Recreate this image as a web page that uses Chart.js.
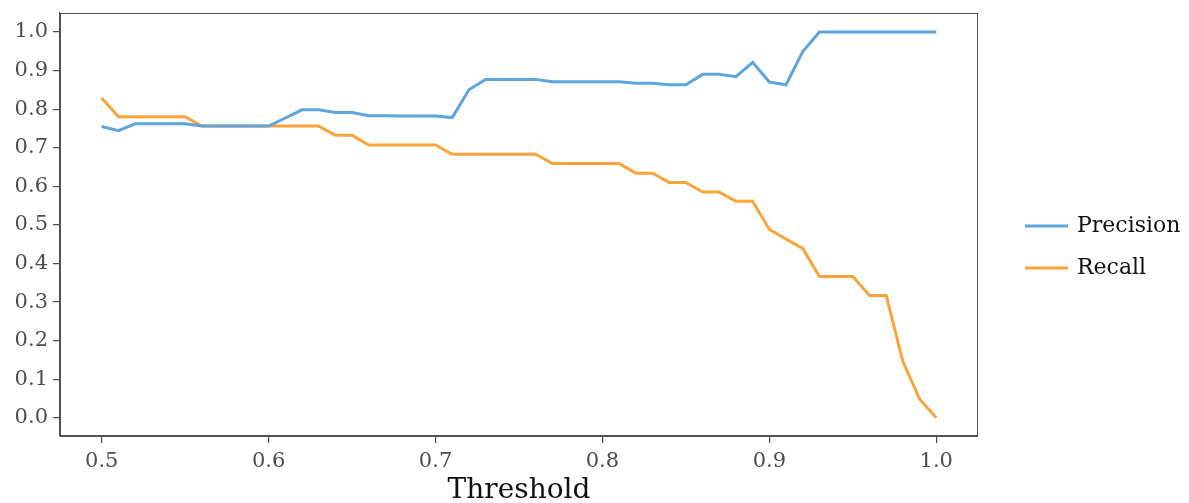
<!DOCTYPE html>
<html>
<head>
<meta charset="utf-8">
<script src="https://cdn.jsdelivr.net/npm/chart.js@4.4.1/dist/chart.umd.min.js"></script>
<style>
html,body{margin:0;padding:0;background:#fff;}
#wrap{width:1189px;height:503px;position:relative;}
</style>
</head>
<body>
<div id="wrap"><canvas id="c" width="1189" height="503"></canvas></div>
<script>
const thresholds = [0.50,0.51,0.52,0.53,0.54,0.55,0.56,0.57,0.58,0.59,0.60,0.61,0.62,0.63,0.64,0.65,0.66,0.67,0.68,0.69,0.70,0.71,0.72,0.73,0.74,0.75,0.76,0.77,0.78,0.79,0.80,0.81,0.82,0.83,0.84,0.85,0.86,0.87,0.88,0.89,0.90,0.91,0.92,0.93,0.94,0.95,0.96,0.97,0.98,0.99,1.00];
const precision = [0.755,0.744,0.762,0.762,0.762,0.762,0.756,0.756,0.756,0.756,0.756,0.777,0.798,0.798,0.791,0.791,0.783,0.783,0.782,0.782,0.782,0.778,0.850,0.877,0.877,0.877,0.877,0.871,0.871,0.871,0.871,0.871,0.867,0.867,0.863,0.863,0.890,0.890,0.884,0.921,0.870,0.863,0.949,1.0,1.0,1.0,1.0,1.0,1.0,1.0,1.0];
const recall = [0.829,0.780,0.780,0.780,0.780,0.780,0.756,0.756,0.756,0.756,0.756,0.756,0.756,0.756,0.732,0.732,0.707,0.707,0.707,0.707,0.707,0.683,0.683,0.683,0.683,0.683,0.683,0.659,0.659,0.659,0.659,0.659,0.634,0.634,0.610,0.610,0.585,0.585,0.561,0.561,0.488,0.463,0.439,0.366,0.366,0.366,0.317,0.317,0.146,0.049,0.0];
const xTicks = [0.5,0.6,0.7,0.8,0.9,1.0];
const yTicks = [0.0,0.1,0.2,0.3,0.4,0.5,0.6,0.7,0.8,0.9,1.0];
const seriesNames = ['Precision','Recall'];
const seriesColors = ['#5DA5DA','#FAA43A'];

const FONT = 'DejaVu Serif';
const AXIS = '#4d4d4d';

const pts = arr => thresholds.map((t,i)=>({x:t,y:arr[i]}));

const legendPlugin = {
  id:'customLegend',
  afterDraw(chart){
    const ctx = chart.ctx;
    const area = chart.chartArea;
    ctx.save();
    ctx.strokeStyle = '#555';
    ctx.lineWidth = 1;
    ctx.strokeRect(area.left+0.5, area.top+0.5, area.right-area.left-1, area.bottom-area.top);
    ctx.restore();
    const ys = [226,268];
    chart.data.datasets.forEach((ds,i)=>{
      ctx.save();
      ctx.strokeStyle = ds.borderColor;
      ctx.lineWidth = 3;
      ctx.beginPath();
      ctx.moveTo(1025, ys[i]);
      ctx.lineTo(1068, ys[i]);
      ctx.stroke();
      ctx.fillStyle = '#111';
      ctx.font = '22px "' + FONT + '"';
      ctx.textBaseline = 'middle';
      ctx.textAlign = 'left';
      ctx.fillText(ds.label, 1077, ys[i]);
      ctx.restore();
    });
  }
};

new Chart(document.getElementById('c'), {
  type:'line',
  data:{
    datasets:[
      {label:seriesNames[0], data:pts(precision), borderColor:seriesColors[0], backgroundColor:seriesColors[0], borderWidth:3, pointRadius:0, tension:0, fill:false},
      {label:seriesNames[1], data:pts(recall), borderColor:seriesColors[1], backgroundColor:seriesColors[1], borderWidth:3, pointRadius:0, tension:0, fill:false}
    ]
  },
  options:{
    responsive:false,
    animation:false,
    layout:{padding:{left:0,right:211,top:13,bottom:0}},
    plugins:{legend:{display:false}, tooltip:{enabled:false}},
    scales:{
      x:{
        type:'linear', min:0.475, max:1.025,
        afterBuildTicks(s){ s.ticks = xTicks.map(v=>({value:v})); },
        afterFit(s){ s.height = 67; s.paddingLeft = 0; s.paddingRight = 0; },
        grid:{display:true, drawOnChartArea:false, drawTicks:true, tickLength:7, color:AXIS, lineWidth:1.2},
        border:{display:true, color:AXIS, width:1.2},
        ticks:{color:AXIS, font:{family:FONT, size:21}, padding:6, maxRotation:0, callback:v=>v.toFixed(1)},
        title:{display:true, text:'Threshold', color:'#111', font:{family:FONT, size:28, lineHeight:0.9}, padding:{top:0,bottom:0}}
      },
      y:{
        type:'linear', min:-0.047, max:1.049,
        afterBuildTicks(s){ s.ticks = yTicks.map(v=>({value:v})); },
        afterFit(s){ s.width = 60; s.paddingTop = 0; s.paddingBottom = 0; },
        grid:{display:true, drawOnChartArea:false, drawTicks:true, tickLength:7, color:AXIS, lineWidth:1.2},
        border:{display:true, color:AXIS, width:1.2},
        ticks:{color:AXIS, font:{family:FONT, size:21}, padding:5, callback:v=>v.toFixed(1)}
      }
    }
  },
  plugins:[legendPlugin]
});
</script>
</body>
</html>
